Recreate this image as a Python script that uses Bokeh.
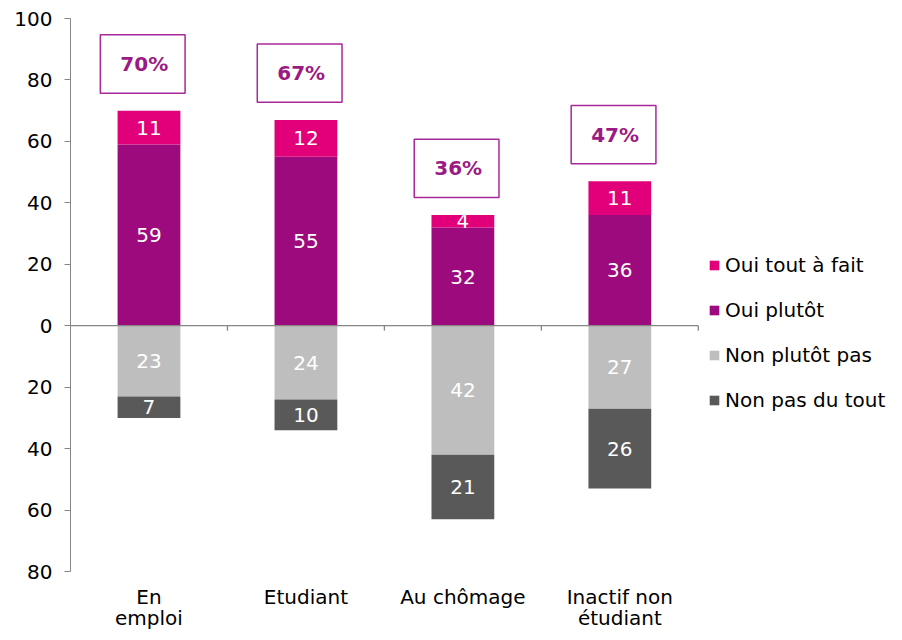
from bokeh.plotting import figure
from bokeh.models import FixedTicker, Legend, LegendItem, ColumnDataSource, LinearAxis
from bokeh.core.properties import value
from bokeh.embed import file_html
from bokeh.resources import INLINE

categories = ["En\nemploi", "Etudiant", "Au chômage", "Inactif non\nétudiant"]
oui_tout = [11, 12, 4, 11]
oui_plutot = [59, 55, 32, 36]
non_plutot = [23, 24, 42, 27]
non_pas = [7, 10, 21, 26]
totals = ["70%", "67%", "36%", "47%"]
y_ticks = [-80, -60, -40, -20, 0, 20, 40, 60, 80, 100]

FONT = "DejaVu Sans"
C_TOUT = "#E2007A"
C_PLUTOT = "#9C0A7D"
C_NONPL = "#BEBEBE"
C_NONPAS = "#595959"
C_BOX = "#A8289A"
C_PCT = "#9B1B84"

n = len(categories)
xs = [i + 0.5 for i in range(n)]
oui_total = [a + b for a, b in zip(oui_tout, oui_plutot)]
non_total = [a + b for a, b in zip(non_plutot, non_pas)]

p = figure(width=894, height=632, x_range=(0, 5.25), y_range=(-80, 100),
           output_backend="svg", toolbar_location=None,
           min_border_left=70, min_border_right=0, min_border_top=18, min_border_bottom=61)
p.outline_line_color = None
p.grid.visible = False
p.background_fill_color = "white"

W = 0.40
src = ColumnDataSource(dict(
    x=xs,
    pl_top=oui_plutot, pl_bot=[0] * n,
    tt_top=oui_total, tt_bot=oui_plutot,
    np_top=[0] * n, np_bot=[-v for v in non_plutot],
    nn_top=[-v for v in non_plutot], nn_bot=[-v for v in non_total],
))
r_pl = p.vbar(x="x", top="pl_top", bottom="pl_bot", width=W, source=src, fill_color=C_PLUTOT, line_color=None)
r_tt = p.vbar(x="x", top="tt_top", bottom="tt_bot", width=W, source=src, fill_color=C_TOUT, line_color=None)
r_np = p.vbar(x="x", top="np_top", bottom="np_bot", width=W, source=src, fill_color=C_NONPL, line_color=None)
r_nn = p.vbar(x="x", top="nn_top", bottom="nn_bot", width=W, source=src, fill_color=C_NONPAS, line_color=None)

# zero line with category-boundary ticks
p.segment(x0=[0], y0=[0], x1=[n], y1=[0], line_color="#868686", line_width=1.3)
p.segment(x0=list(range(1, n + 1)), y0=[0] * n, x1=list(range(1, n + 1)), y1=[-1.6] * n,
          line_color="#868686", line_width=1.3)

# segment labels
lab_x, lab_y, lab_t = [], [], []
for i in range(n):
    lab_x += [xs[i]] * 4
    lab_y += [oui_plutot[i] / 2, oui_plutot[i] + oui_tout[i] / 2,
              -non_plutot[i] / 2, -non_plutot[i] - non_pas[i] / 2]
    lab_t += [str(oui_plutot[i]), str(oui_tout[i]), str(non_plutot[i]), str(non_pas[i])]
p.text(x=lab_x, y=lab_y, text=lab_t, text_color="white", text_font=value(FONT),
       text_font_size="20px", text_align="center", text_baseline="middle")

# percentage boxes
bx = [x - 0.04 for x in xs]
by = [t + 15.2 for t in oui_total]
p.rect(x=bx, y=by, width=0.54, height=19, fill_color=None, line_color=C_BOX, line_width=1.5)
p.text(x=[x + 0.01 for x in bx], y=by, text=totals, text_color=C_PCT, text_font=value(FONT),
       text_font_size="20px", text_font_style="bold", text_align="center", text_baseline="middle")

# y axis
p.yaxis.ticker = FixedTicker(ticks=y_ticks)
p.yaxis.major_label_overrides = {t: str(abs(t)) for t in y_ticks}
p.yaxis.minor_tick_line_color = None
p.yaxis.major_tick_in = 0
p.yaxis.major_tick_out = 6
p.yaxis.axis_line_color = "#868686"
p.yaxis.major_tick_line_color = "#868686"
p.yaxis.major_label_text_font = FONT
p.yaxis.major_label_text_font_size = "20px"
p.yaxis.major_label_text_color = "black"
p.yaxis.major_label_standoff = 12

# category labels: two stacked axes, one per text line
lines1 = [c.split("\n")[0] for c in categories]
lines2 = [c.split("\n")[1] if "\n" in c else "" for c in categories]
x2 = LinearAxis()
p.add_layout(x2, "below")


def style_cat_axis(ax, labels, standoff):
    ax.ticker = FixedTicker(ticks=xs)
    ax.major_label_overrides = {x: t for x, t in zip(xs, labels)}
    ax.axis_line_color = None
    ax.major_tick_line_color = None
    ax.minor_tick_line_color = None
    ax.major_tick_out = 0
    ax.major_tick_in = 0
    ax.major_label_standoff = standoff
    ax.major_label_text_font = FONT
    ax.major_label_text_font_size = "20px"
    ax.major_label_text_color = "black"


style_cat_axis(p.xaxis[0], lines1, 13)
style_cat_axis(x2, lines2, -6)

legend = Legend(items=[
    LegendItem(label="Oui tout à fait", renderers=[r_tt]),
    LegendItem(label="Oui plutôt", renderers=[r_pl]),
    LegendItem(label="Non plutôt pas", renderers=[r_np]),
    LegendItem(label="Non pas du tout", renderers=[r_nn]),
], location=(638, 159))
legend.border_line_color = None
legend.background_fill_alpha = 0
legend.padding = 0
legend.margin = 0
legend.spacing = 21
legend.glyph_width = 12
legend.glyph_height = 12
legend.label_standoff = 5
legend.label_text_font = FONT
legend.label_text_font_size = "20px"
legend.label_text_color = "black"
legend.label_height = 24
p.add_layout(legend, "center")

open("out.html", "w").write(file_html(p, INLINE))
